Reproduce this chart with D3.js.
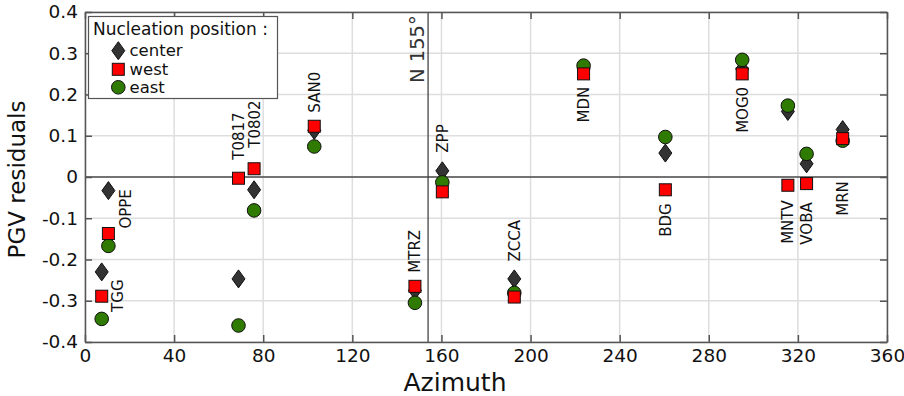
<!DOCTYPE html>
<html><head><meta charset="utf-8">
<script src="https://cdn.jsdelivr.net/npm/d3@7/dist/d3.min.js"></script>
<style>body{margin:0;background:#fff}svg{display:block}text{font-family:"DejaVu Sans",sans-serif}</style>
</head><body><svg id="c" width="904" height="396"></svg>
<script>
const stations = ["TGG","OPPE","T0817","T0802","SAN0","MTRZ","ZPP","ZCCA","MDN","BDG","MOG0","MNTV","VOBA","MRN"];
const azimuth  = [7.5,10.5,68.9,75.9,102.9,148.1,160.4,192.7,223.8,260.5,295.0,315.5,323.9,340.1];
const center   = [-0.230,-0.033,-0.247,-0.031,0.113,-0.275,0.015,-0.247,0.262,0.058,0.262,0.159,0.032,0.115];
const west     = [-0.289,-0.137,-0.003,0.020,0.123,-0.265,-0.036,-0.291,0.250,-0.031,0.250,-0.020,-0.016,0.093];
const east     = [-0.344,-0.167,-0.360,-0.081,0.074,-0.305,-0.013,-0.281,0.270,0.097,0.284,0.173,0.056,0.088];
const labelAz  = [14.4,18.0,68.9,75.9,102.9,148.1,160.4,192.7,223.8,260.5,295.0,315.5,323.9,340.1];
const labelVal = [-0.327,-0.125,0.042,0.071,0.156,-0.232,0.059,-0.205,0.132,-0.145,0.107,-0.162,-0.164,-0.094];
const xTicks = [0,40,80,120,160,200,240,280,320,360];
const yTicks = [-0.4,-0.3,-0.2,-0.1,0,0.1,0.2,0.3,0.4];
const yTickLabels = ["-0.4","-0.3","-0.2","-0.1","0","0.1","0.2","0.3","0.4"];
const refAz = 154;
const seriesNames = ["center","west","east"];

const svg = d3.select("#c");
const L=85,R=887,T=12,B=342;
const x = d3.scaleLinear().domain([0,360]).range([L,R]);
const y = d3.scaleLinear().domain([-0.4,0.4]).range([B,T]);

// grid
const g = svg.append("g");
g.selectAll(".gx").data(xTicks).join("line").attr("x1",d=>x(d)).attr("x2",d=>x(d)).attr("y1",T).attr("y2",B).attr("stroke","#dedede").attr("stroke-width",1.5);
g.selectAll(".gy").data(yTicks).join("line").attr("y1",d=>y(d)).attr("y2",d=>y(d)).attr("x1",L).attr("x2",R).attr("stroke","#dedede").attr("stroke-width",1.5);

// zero line and reference line
svg.append("line").attr("x1",L).attr("x2",R).attr("y1",y(0)).attr("y2",y(0)).attr("stroke","#000").attr("stroke-width",1);
svg.append("line").attr("x1",x(refAz)).attr("x2",x(refAz)).attr("y1",T).attr("y2",B).attr("stroke","#444").attr("stroke-width",1.3);
svg.append("text").attr("transform",`translate(${x(refAz)-4},${T+71}) rotate(-90)`).attr("font-size",19.5).attr("fill","#333").text("N 155°");

// axes
const ax = svg.append("g");
const tk=7;
const axB = d3.axisBottom(x).tickValues(xTicks).tickSizeInner(-tk).tickSizeOuter(0).tickPadding(7);
const axT = d3.axisTop(x).tickValues(xTicks).tickSizeInner(-tk).tickSizeOuter(0).tickFormat("");
const axL = d3.axisLeft(y).tickValues(yTicks).tickSizeInner(-tk).tickSizeOuter(0).tickPadding(7).tickFormat((d,i)=>yTickLabels[i]);
const axR = d3.axisRight(y).tickValues(yTicks).tickSizeInner(-tk).tickSizeOuter(0).tickFormat("");
function style(sel){sel.selectAll("path").attr("stroke","#555").attr("stroke-width",1.5);sel.selectAll("line").attr("stroke","#555").attr("stroke-width",1.5);sel.selectAll("text").attr("font-family","DejaVu Sans").attr("font-size",18.5).attr("fill","#111");}
ax.append("g").attr("transform",`translate(0,${B})`).call(axB).call(style);
ax.append("g").attr("transform",`translate(0,${T})`).call(axT).call(style);
ax.append("g").attr("transform",`translate(${L},0)`).call(axL).call(style);
ax.append("g").attr("transform",`translate(${R},0)`).call(axR).call(style);

svg.append("text").attr("x",455).attr("y",391).attr("text-anchor","middle").attr("font-size",25).attr("fill","#111").text("Azimuth");
svg.append("text").attr("transform",`translate(25,179.5) rotate(-90)`).attr("text-anchor","middle").attr("font-size",23).attr("fill","#111").text("PGV residuals");

// markers
const diamond = "M0,-9 L6.5,0 L0,9 L-6.5,0 Z";
const rows = stations.map((s,i)=>({s,az:azimuth[i],c:center[i],w:west[i],e:east[i],la:labelAz[i],lv:labelVal[i]}));
const m = svg.append("g");
m.selectAll(".d").data(rows).join("path").attr("d",diamond).attr("transform",d=>`translate(${x(d.az)},${y(d.c)})`).attr("fill","#333").attr("stroke","#111").attr("stroke-width",1);
m.selectAll(".e").data(rows).join("circle").attr("cx",d=>x(d.az)).attr("cy",d=>y(d.e)).attr("r",6.8).attr("fill","#2f7a00").attr("stroke","#111").attr("stroke-width",1);
m.selectAll(".w").data(rows).join("rect").attr("x",d=>x(d.az)-6).attr("y",d=>y(d.w)-6).attr("width",12).attr("height",12).attr("fill","#ff0000").attr("stroke","#111").attr("stroke-width",1);

// station labels
svg.append("g").selectAll("text").data(rows).join("text")
  .attr("transform",d=>`translate(${x(d.la)+5.5},${y(d.lv)}) rotate(-90)`)
  .attr("font-size",15).attr("fill","#111").text(d=>d.s);

// legend
const lg = svg.append("g");
lg.append("rect").attr("x",88.5).attr("y",16.5).attr("width",189).attr("height",82).attr("fill","#fff").attr("stroke","#555").attr("stroke-width",1.2);
lg.append("text").attr("x",93).attr("y",35).attr("font-size",17).attr("fill","#111").text("Nucleation position :");
const ly=[50.7,69.3,87.3];
lg.append("path").attr("d",diamond).attr("transform",`translate(118.3,${ly[0]})`).attr("fill","#333").attr("stroke","#111");
lg.append("rect").attr("x",112.3).attr("y",ly[1]-6).attr("width",12).attr("height",12).attr("fill","#ff0000").attr("stroke","#111");
lg.append("circle").attr("cx",118.3).attr("cy",ly[2]).attr("r",6.8).attr("fill","#2f7a00").attr("stroke","#111");
lg.selectAll(".lt").data(seriesNames).join("text").attr("x",129.5).attr("y",(d,i)=>ly[i]+5.5).attr("font-size",16.5).attr("fill","#111").text(d=>d);
</script></body></html>
